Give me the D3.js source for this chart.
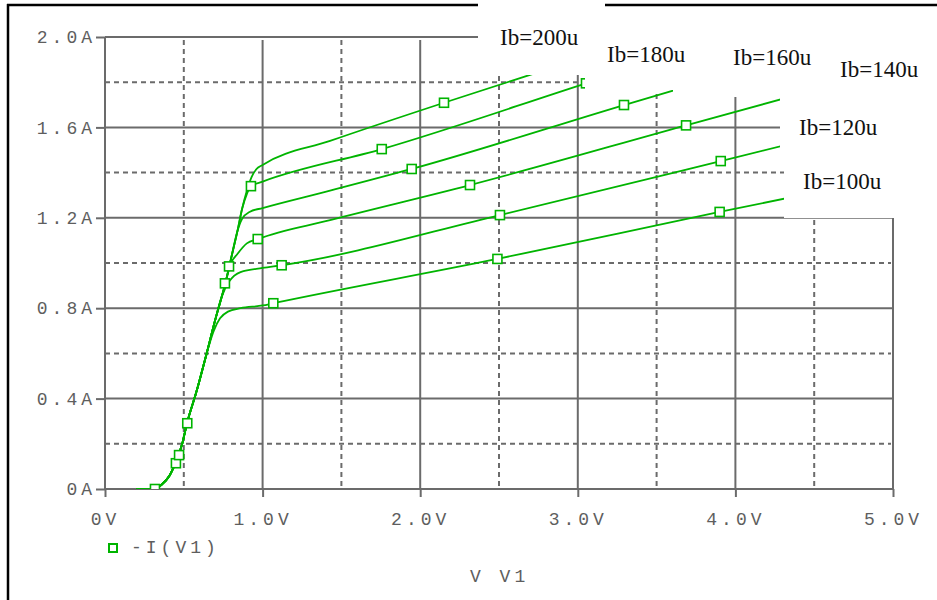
<!DOCTYPE html>
<html>
<head>
<meta charset="utf-8">
<script src="https://cdn.jsdelivr.net/npm/d3@7"></script>
<style>
body { margin: 0; background: #fff; }
svg { display: block; }
</style>
</head>
<body>
<div id="chart"></div>
<script>
// axis ticks and grid
const xTicks = [0, 1, 2, 3, 4, 5];
const xTickLabels = ['0V', '1.0V', '2.0V', '3.0V', '4.0V', '5.0V'];
const xDashes = [0.5, 1.5, 2.5, 3.5, 4.5];
const yTicks = [0, 0.4, 0.8, 1.2, 1.6, 2.0];
const yTickLabels = ['0A', '0.4A', '0.8A', '1.2A', '1.6A', '2.0A'];
const yDashes = [0.2, 0.6, 1.0, 1.4, 1.8];

const ibNames = ['Ib=100u', 'Ib=120u', 'Ib=140u', 'Ib=160u', 'Ib=180u', 'Ib=200u'];

// common rising part [V, A]
const rise = [[0.20, 0], [0.31, 0], [0.36, 0.02], [0.41, 0.06], [0.45, 0.12], [0.49, 0.20],
  [0.52, 0.29], [0.58, 0.43], [0.645, 0.60], [0.70, 0.75], [0.76, 0.90], [0.80, 1.02],
  [0.84, 1.14], [0.87, 1.24], [0.90, 1.32], [0.93, 1.38]];

// each curve after it leaves the common rise
const tail100 = [[0.69, 0.70], [0.73, 0.755], [0.78, 0.785], [0.86, 0.80], [1.0, 0.812], [1.068, 0.822], [2.49, 1.018], [3.90, 1.226], [5.0, 1.383]];
const tail120 = [[0.74, 0.85], [0.79, 0.92], [0.86, 0.96], [1.0, 0.978], [1.121, 0.99], [2.506, 1.212], [3.907, 1.451], [5.0, 1.64]];
const tail140 = [[0.80, 1.0], [0.84, 1.04], [0.90, 1.087], [0.969, 1.106], [1.428, 1.19], [2.316, 1.345], [3.687, 1.609], [5.0, 1.86]];
const tail160 = [[0.84, 1.14], [0.87, 1.195], [0.92, 1.227], [1.0, 1.243], [1.428, 1.320], [1.946, 1.416], [3.293, 1.699], [5.0, 2.05]];
const tail180 = [[0.90, 1.305], [0.926, 1.34], [1.0, 1.36], [1.756, 1.504], [3.052, 1.795], [5.0, 2.23]];
const tail200 = [[0.96, 1.415], [1.0, 1.434], [1.428, 1.54], [2.151, 1.709], [2.697, 1.832], [5.0, 2.34]];

// square markers
const marks100 = [[0.317, 0], [1.068, 0.822], [2.49, 1.018], [3.90, 1.226]];
const marks120 = [[0.45, 0.114], [1.121, 0.99], [2.506, 1.212], [3.907, 1.451]];
const marks140 = [[0.969, 1.106], [2.316, 1.345], [3.687, 1.609]];
const marks160 = [[0.522, 0.291], [0.761, 0.91], [1.946, 1.416], [3.293, 1.699]];
const marks180 = [[0.47, 0.15], [0.926, 1.34], [1.756, 1.504], [3.052, 1.795]];
const marks200 = [[0.787, 0.985], [2.151, 1.709]];

const tails = [tail100, tail120, tail140, tail160, tail180, tail200];
const marks = [marks100, marks120, marks140, marks160, marks180, marks200];
const curves = tails.map((t, i) => ({
  name: ibNames[i],
  points: rise.filter(p => p[0] < t[0][0]).concat(t),
  marks: marks[i]
}));

const width = 937;
const height = 600;
const green = '#00b400';
const grid = '#6b6b6b';
const tickFont = '"Liberation Mono", "DejaVu Sans Mono", monospace';

const x = d3.scaleLinear().domain([0, 5]).range([105, 893]);
const y = d3.scaleLinear().domain([0, 2]).range([489, 37]);

const svg = d3.select('#chart').append('svg').attr('width', width).attr('height', height);

svg.append('clipPath').attr('id', 'plot')
  .append('rect').attr('x', x(0)).attr('y', y(2)).attr('width', x(5) - x(0)).attr('height', y(0) - y(2));

// dashed grid
svg.append('g')
  .attr('stroke', grid).attr('stroke-width', 2).attr('stroke-dasharray', '5,4')
  .selectAll('line').data(yDashes).enter().append('line')
  .attr('x1', x(0)).attr('x2', x(5) - 2)
  .attr('y1', d => y(d)).attr('y2', d => y(d));
svg.append('g')
  .attr('stroke', grid).attr('stroke-width', 2).attr('stroke-dasharray', '5,4')
  .selectAll('line').data(xDashes).enter().append('line')
  .attr('x1', d => x(d)).attr('x2', d => x(d))
  .attr('y1', y(2) + 3).attr('y2', y(0));

// solid grid
svg.append('g')
  .attr('stroke', grid).attr('stroke-width', 2)
  .selectAll('line').data(yTicks).enter().append('line')
  .attr('x1', x(0)).attr('x2', x(5))
  .attr('y1', d => y(d)).attr('y2', d => y(d));
svg.append('g')
  .attr('stroke', grid).attr('stroke-width', 2)
  .selectAll('line').data(xTicks.slice(1)).enter().append('line')
  .attr('x1', d => x(d)).attr('x2', d => x(d))
  .attr('y1', d => d === 5 ? y(2) : y(2) + 3).attr('y2', y(0));
svg.append('line')
  .attr('x1', x(0)).attr('x2', x(0)).attr('y1', y(2)).attr('y2', y(0))
  .attr('stroke', grid).attr('stroke-width', 2);

// axes
const xAxis = g => g
  .attr('transform', `translate(0, ${y(0)})`)
  .call(d3.axisBottom(x).tickValues(xTicks).tickFormat((d, i) => xTickLabels[i]).tickSize(8).tickPadding(15))
  .call(g => g.select('.domain').remove());
const yAxis = g => g
  .attr('transform', `translate(${x(0)}, 0)`)
  .call(d3.axisLeft(y).tickValues(yTicks).tickFormat((d, i) => yTickLabels[i]).tickSize(9).tickPadding(0))
  .call(g => g.select('.domain').remove());

svg.append('g').call(xAxis);
svg.append('g').call(yAxis);
svg.selectAll('.tick line').attr('stroke', grid).attr('stroke-width', 2);
svg.selectAll('.tick text')
  .attr('fill', '#5e5e5e')
  .style('font-family', tickFont).style('font-size', '18px').style('letter-spacing', '4px');

// curves
const line = d3.line().x(d => x(d[0])).y(d => y(d[1])).curve(d3.curveMonotoneX);
const plot = svg.append('g').attr('clip-path', 'url(#plot)');
plot.selectAll('path').data(curves).enter().append('path')
  .attr('d', d => line(d.points))
  .attr('fill', 'none').attr('stroke', green).attr('stroke-width', 1.8);
plot.selectAll('rect.mark').data(curves.flatMap(c => c.marks)).enter().append('rect')
  .attr('class', 'mark')
  .attr('x', d => x(d[0]) - 4.5).attr('y', d => y(d[1]) - 4.5)
  .attr('width', 9).attr('height', 9)
  .attr('fill', '#fff').attr('stroke', green).attr('stroke-width', 1.6);

// legend and axis title
svg.append('rect').attr('x', 109).attr('y', 544).attr('width', 8).attr('height', 8)
  .attr('fill', 'none').attr('stroke', green).attr('stroke-width', 2);
svg.append('text').attr('x', 131).attr('y', 553).text('-I(V1)')
  .attr('fill', '#5e5e5e')
  .style('font-family', tickFont).style('font-size', '18px').style('letter-spacing', '4px');
svg.append('clipPath').attr('id', 'title')
  .append('rect').attr('x', 400).attr('y', 550).attr('width', 200).attr('height', 33);
svg.append('text').attr('x', 470).attr('y', 582).text('V_V1')
  .attr('clip-path', 'url(#title)')
  .attr('fill', '#5e5e5e')
  .style('font-family', tickFont).style('font-size', '18px').style('letter-spacing', '4px');

// outer frame
svg.append('line').attr('x1', 8).attr('x2', 8).attr('y1', 4).attr('y2', height).attr('stroke', '#000').attr('stroke-width', 2.5);
svg.append('line').attr('x1', 7).attr('x2', width).attr('y1', 5).attr('y2', 5).attr('stroke', '#000').attr('stroke-width', 2.5);

// white label boxes pasted over the plot
const boxes = [[478, 0, 605, 75], [585, 8, width, 90], [673, 8, width, 97], [780, 8, width, 150], [784, 150, width, 218]];
svg.append('g').selectAll('rect').data(boxes).enter().append('rect')
  .attr('x', d => d[0]).attr('y', d => d[1])
  .attr('width', d => d[2] - d[0]).attr('height', d => d[3] - d[1])
  .attr('fill', '#fff');

const labelPos = [[803, 189], [799, 135], [840, 77], [733, 65], [607, 62], [500, 45]];
svg.append('g').selectAll('text').data(curves).enter().append('text')
  .attr('x', (d, i) => labelPos[i][0]).attr('y', (d, i) => labelPos[i][1])
  .text(d => d.name)
  .attr('fill', '#111')
  .style('font-family', '"Liberation Serif", "DejaVu Serif", serif').style('font-size', '23px');
</script>
</body>
</html>
